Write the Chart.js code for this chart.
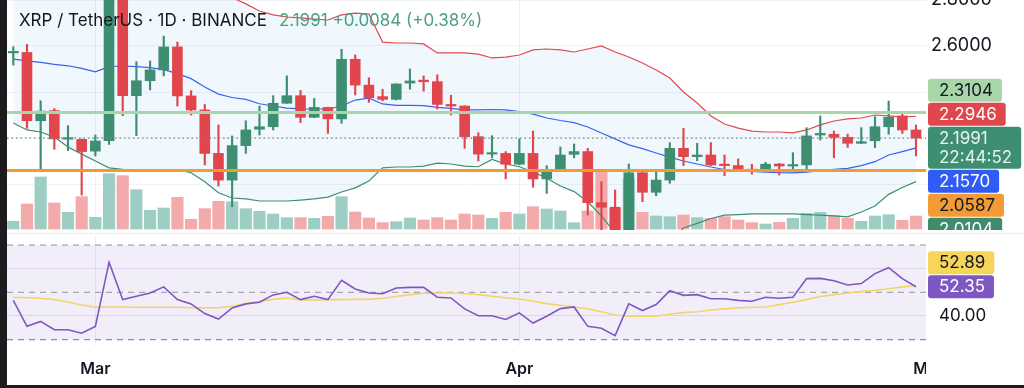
<!DOCTYPE html>
<html>
<head>
<meta charset="utf-8">
<title>XRP / TetherUS 1D</title>
<script src="https://cdn.jsdelivr.net/npm/chart.js@4.4.1/dist/chart.umd.min.js"></script>
<style>
  html, body { margin: 0; padding: 0; background: #1c1c1e; }
  #wrap { position: absolute; left: 7px; top: 0; width: 1017px; height: 385px; background: #fff; overflow: hidden; }
  #priceCanvas { position: absolute; left: 0; top: 0; }
  #rsiCanvas { position: absolute; left: 0; top: 236px; }
  #sep { position: absolute; left: 0; top: 233px; width: 1017px; height: 1px; background: #eceef2; }
</style>
</head>
<body>
<div id="wrap">
  <canvas id="priceCanvas" width="1017" height="230"></canvas>
  <div id="sep"></div>
  <canvas id="rsiCanvas" width="1017" height="149"></canvas>
</div>
<script>
// Daily candles, 23 Feb -> 30 Apr (index 0 = 23 Feb)
const symbolTitle = 'XRP / TetherUS · 1D · BINANCE';
const lastChange = '+0.0084';
const lastChangePct = '(+0.38%)';
const countdown = '22:44:52';

const monthIdx = [6, 37, 67];
const monthLabels = ['Mar', 'Apr', 'May'];

const open = [2.570, 2.572, 2.275, 2.319, 2.195, 2.194, 2.143, 2.188, 2.940, 2.384,
  2.449, 2.496, 2.596, 2.383, 2.322, 2.133, 2.017, 2.167, 2.238, 2.249,
  2.351, 2.384, 2.290, 2.333, 2.283, 2.542, 2.430, 2.380, 2.368, 2.439,
  2.451, 2.445, 2.346, 2.339, 2.206, 2.130, 2.133, 2.086, 2.133, 2.022,
  2.061, 2.129, 2.141, 1.919, 1.899, 1.740, 2.049, 1.964, 2.017, 2.155,
  2.119, 2.126, 2.086, 2.080, 2.064, 2.058, 2.087, 2.078, 2.083, 2.213,
  2.216, 2.203, 2.177, 2.188, 2.249, 2.296, 2.235];
const high = [2.597, 2.607, 2.362, 2.328, 2.254, 2.196, 2.213, 2.990, 2.960, 2.532,
  2.535, 2.643, 2.617, 2.406, 2.346, 2.257, 2.209, 2.275, 2.339, 2.384,
  2.470, 2.407, 2.372, 2.334, 2.586, 2.561, 2.462, 2.412, 2.436, 2.500,
  2.470, 2.475, 2.386, 2.340, 2.223, 2.210, 2.141, 2.197, 2.230, 2.080,
  2.161, 2.174, 2.155, 2.010, 1.974, 2.087, 2.061, 2.058, 2.180, 2.242,
  2.177, 2.180, 2.126, 2.109, 2.086, 2.094, 2.090, 2.136, 2.245, 2.296,
  2.230, 2.217, 2.245, 2.293, 2.361, 2.307, 2.257];
const low = [2.517, 2.242, 2.061, 2.151, 2.145, 1.952, 2.122, 2.172, 2.297, 2.210,
  2.409, 2.470, 2.339, 2.300, 2.083, 1.991, 1.901, 2.133, 2.213, 2.235,
  2.351, 2.267, 2.288, 2.220, 2.264, 2.387, 2.355, 2.361, 2.365, 2.412,
  2.404, 2.326, 2.300, 2.155, 2.100, 2.114, 2.022, 2.083, 1.986, 1.959,
  2.054, 2.114, 1.865, 1.760, 1.610, 1.640, 1.923, 1.949, 2.003, 2.080,
  2.101, 2.080, 2.036, 2.054, 2.043, 2.057, 2.039, 2.058, 2.061, 2.191,
  2.114, 2.159, 2.176, 2.158, 2.216, 2.220, 2.122];
const close = [2.574, 2.275, 2.317, 2.196, 2.199, 2.141, 2.187, 2.940, 2.384, 2.449,
  2.496, 2.596, 2.383, 2.322, 2.133, 2.017, 2.167, 2.235, 2.249, 2.351,
  2.384, 2.290, 2.333, 2.283, 2.542, 2.430, 2.375, 2.368, 2.435, 2.448,
  2.445, 2.346, 2.339, 2.206, 2.130, 2.136, 2.086, 2.133, 2.022, 2.061,
  2.126, 2.141, 1.919, 1.899, 1.740, 2.049, 1.964, 2.017, 2.155, 2.119,
  2.126, 2.083, 2.080, 2.061, 2.058, 2.086, 2.078, 2.083, 2.209, 2.220,
  2.203, 2.177, 2.184, 2.249, 2.290, 2.235, 2.1991];
const volume = [23, 75, 156, 78, 50, 97, 35, 166, 160, 118,
  56, 63, 95, 29, 61, 83, 82, 61, 53, 45,
  34, 34, 32, 38, 97, 51, 33, 19, 22, 33,
  27, 34, 27, 45, 42, 32, 50, 45, 67, 60,
  54, 19, 54, 174, 62, 150, 50, 39, 37, 42,
  34, 32, 37, 27, 19, 15, 20, 32, 47, 50,
  40, 32, 23, 39, 43, 26, 39];

// Bollinger bands (20, 2)
const bbUpper = [2.821, 2.835, 2.832, 2.836, 2.867, 2.876, 2.876, 2.946, 2.961, 2.960,
  2.951, 2.937, 2.925, 2.886, 2.866, 2.841, 2.811, 2.783, 2.752, 2.735,
  2.726, 2.722, 2.717, 2.713, 2.735, 2.743, 2.739, 2.617, 2.613, 2.613,
  2.609, 2.570, 2.570, 2.570, 2.565, 2.548, 2.552, 2.561, 2.583, 2.587,
  2.583, 2.574, 2.587, 2.600, 2.574, 2.552, 2.526, 2.496, 2.461, 2.400,
  2.352, 2.296, 2.261, 2.243, 2.230, 2.226, 2.226, 2.222, 2.235, 2.257,
  2.274, 2.283, 2.287, 2.300, 2.296, 2.291, 2.2946];
const bbBasis = [2.543, 2.535, 2.529, 2.520, 2.514, 2.503, 2.488, 2.510, 2.513, 2.510,
  2.506, 2.497, 2.480, 2.458, 2.422, 2.391, 2.376, 2.368, 2.349, 2.339,
  2.330, 2.327, 2.326, 2.326, 2.339, 2.365, 2.373, 2.348, 2.342, 2.342,
  2.341, 2.333, 2.329, 2.322, 2.322, 2.324, 2.322, 2.315, 2.304, 2.287,
  2.276, 2.267, 2.248, 2.222, 2.196, 2.170, 2.154, 2.135, 2.117, 2.100,
  2.087, 2.074, 2.063, 2.058, 2.055, 2.052, 2.049, 2.048, 2.052, 2.058,
  2.064, 2.068, 2.080, 2.097, 2.126, 2.141, 2.157];
const bbLower = [2.265, 2.235, 2.226, 2.204, 2.161, 2.130, 2.100, 2.070, 2.064, 2.061,
  2.061, 2.061, 2.061, 2.049, 2.010, 1.962, 1.939, 1.935, 1.926, 1.926,
  1.926, 1.930, 1.935, 1.943, 1.965, 1.983, 2.013, 2.070, 2.074, 2.074,
  2.078, 2.091, 2.087, 2.078, 2.075, 2.107, 2.087, 2.075, 2.052, 2.025,
  1.991, 1.967, 1.923, 1.861, 1.787, 1.740, 1.720, 1.710, 1.740, 1.809,
  1.829, 1.850, 1.865, 1.867, 1.870, 1.870, 1.870, 1.870, 1.867, 1.865,
  1.861, 1.857, 1.878, 1.904, 1.955, 1.985, 2.0104];

// horizontal drawings
const hLevels = [2.3104, 2.0587];

// RSI 14 and its moving average
const rsi = [46.6, 35.6, 37.7, 34.2, 34.2, 32.7, 35.6, 62.7, 46.9, 48.3,
  49.7, 52.3, 46.9, 45.1, 41.0, 38.7, 43.4, 45.1, 45.8, 48.9,
  50.0, 46.9, 48.3, 46.9, 55.1, 51.4, 49.7, 49.4, 51.8, 52.1,
  52.1, 47.9, 47.6, 43.0, 40.1, 40.1, 38.5, 41.3, 37.0, 39.9,
  43.1, 43.8, 35.6, 34.8, 31.7, 45.1, 42.3, 44.8, 50.7, 48.7,
  49.0, 47.3, 47.3, 46.6, 46.2, 47.9, 47.5, 47.9, 55.8, 55.9,
  54.9, 53.1, 53.7, 57.9, 60.4, 55.8, 52.35];
const rsiMa = [47.9, 47.7, 47.5, 46.9, 45.9, 44.6, 43.7, 43.8, 43.8, 43.7,
  43.7, 43.7, 43.7, 43.5, 43.4, 43.5, 44.1, 45.2, 46.2, 47.0,
  47.6, 46.8, 46.8, 46.9, 46.9, 47.0, 47.0, 47.5, 48.2, 49.0,
  49.6, 49.7, 49.7, 49.4, 49.0, 48.3, 47.7, 47.2, 46.2, 45.2,
  44.5, 43.8, 43.0, 41.8, 40.4, 39.9, 39.9, 39.9, 40.7, 41.4,
  41.8, 42.5, 43.0, 43.4, 43.7, 43.8, 44.8, 45.8, 46.9, 48.2,
  49.0, 49.7, 50.3, 50.8, 51.5, 52.3, 52.89];
const rsiLevels = [70, 50, 30];

const priceTicks = [2.0, 2.2, 2.4, 2.6, 2.8];
const rsiTicks = [40, 60];

// ---- layout / style ----
const FONT = 'Inter, "Noto Sans", sans-serif';
Chart.defaults.font.family = FONT;
const xMin = -0.46, xMax = 66.73;
const axisW = 98;
const last = close.length - 1;
const upColor = '#3e8e72', downColor = '#e0464b';

const isUp = close.map((c, i) => c >= open[i]);
const candleColors = isUp.map(u => u ? upColor : downColor);
const volColors = isUp.map(u => u ? '#9dcdc3' : '#f2aaaa');
const pts = arr => arr.map((v, i) => ({ x: i, y: v }));
const spanLine = v => [{ x: xMin, y: v }, { x: xMax, y: v }];

function lineDs(data, color, extra) {
  return Object.assign({
    type: 'line', data, borderColor: color, borderWidth: 1.2,
    pointRadius: 0, tension: 0, fill: false
  }, extra);
}

// no label padding around the panes: they sit edge to edge like the original
function noPad(s) {
  s.paddingTop = 0; s.paddingBottom = 0; s.paddingLeft = 0; s.paddingRight = 0;
}

function drawTags(chart, scaleId, tags) {
  const { ctx, chartArea } = chart;
  const scale = chart.scales[scaleId];
  const lineH = 19, padTop = 12, baseH = 24;
  ctx.save();
  ctx.font = '17px ' + FONT;
  const items = tags.slice().sort((a, b) => b.value - a.value).map(t => {
    const lines = [t.value.toFixed(t.digits)].concat(t.extra || []);
    const h = baseH + lineH * (lines.length - 1);
    const ideal = scale.getPixelForValue(t.value) - padTop;
    const w = Math.max(...lines.map(l => ctx.measureText(l).width)) + 20;
    return Object.assign({}, t, { lines, h, ideal, w, top: ideal });
  });
  // last value stays on its price, the others are pushed away from it
  const a = items.findIndex(t => t.anchor);
  for (let i = a - 1; i >= 0; i--) items[i].top = Math.min(items[i].ideal, items[i + 1].top - items[i].h);
  for (let i = a + 1; i < items.length; i++) items[i].top = Math.max(items[i].ideal, items[i - 1].top + items[i - 1].h);
  const x = chartArea.right + 2;
  items.forEach(t => {
    ctx.fillStyle = t.bg;
    ctx.beginPath();
    if (ctx.roundRect) ctx.roundRect(x, t.top + 0.5, t.w, t.h - 1, 3);
    else ctx.rect(x, t.top + 0.5, t.w, t.h - 1);
    ctx.fill();
    ctx.fillStyle = t.fg;
    ctx.textBaseline = 'middle';
    ctx.textAlign = 'left';
    t.lines.forEach((l, k) => ctx.fillText(l, x + 11, t.top + padTop + lineH * k + 0.5));
  });
  ctx.restore();
}

const priceOverlay = {
  id: 'priceOverlay',
  afterDraw(chart) {
    const ctx = chart.ctx;
    drawTags(chart, 'y', [
      { value: hLevels[0], digits: 4, bg: '#a9d6a8', fg: '#131722' },
      { value: bbUpper[last], digits: 4, bg: '#e0474c', fg: '#ffffff' },
      { value: close[last], digits: 4, bg: '#3e8e72', fg: '#e6f3ee', extra: [countdown], anchor: true },
      { value: bbBasis[last], digits: 4, bg: '#2f5cf2', fg: '#ffffff' },
      { value: hLevels[1], digits: 4, bg: '#f29b34', fg: '#131722' },
      { value: bbLower[last], digits: 4, bg: '#3f8c6d', fg: '#ffffff' }
    ]);
    // legend line
    ctx.save();
    ctx.font = '17px ' + FONT;
    ctx.textBaseline = 'middle';
    ctx.textAlign = 'left';
    ctx.fillStyle = '#131722';
    ctx.fillText(symbolTitle, 12, 21);
    const w = ctx.measureText(symbolTitle).width;
    ctx.fillStyle = '#4c9f85';
    ctx.fillText(close[last].toFixed(4) + ' ' + lastChange + ' ' + lastChangePct, 12 + w + 12, 21);
    ctx.restore();
  }
};

const rsiOverlay = {
  id: 'rsiOverlay',
  afterDraw(chart) {
    const { ctx, chartArea, width, height } = chart;
    // the next month label runs under the price scale
    ctx.save();
    ctx.fillStyle = '#ffffff';
    ctx.fillRect(chartArea.right, chartArea.bottom + 1, width - chartArea.right, height - chartArea.bottom);
    ctx.restore();
    drawTags(chart, 'y', [
      { value: rsiMa[last], digits: 2, bg: '#f6d55a', fg: '#131722' },
      { value: rsi[last], digits: 2, bg: '#7e57c2', fg: '#ffffff', anchor: true }
    ]);
  }
};

const xScale = (showLabels) => ({
  type: 'linear', min: xMin, max: xMax, offset: false,
  afterBuildTicks: s => { s.ticks = monthIdx.map(v => ({ value: v })); },
  ticks: {
    display: showLabels, autoSkip: false, maxRotation: 0, padding: 14,
    color: '#131722', font: { size: 16, weight: '600' },
    callback: v => monthLabels[monthIdx.indexOf(v)]
  },
  grid: {
    offset: false, drawTicks: false,
    color: c => (c.tick && c.tick.value <= xMax) ? '#eef0f4' : 'rgba(0,0,0,0)'
  },
  border: { display: false },
  afterFit: s => { s.height = showLabels ? 39 : 0; noPad(s); }
});

const idx = close.map((_, i) => i);

new Chart(document.getElementById('priceCanvas'), {
  type: 'bar',
  data: {
    datasets: [
      lineDs(pts(bbUpper), '#e04a4f', { fill: 2, backgroundColor: 'rgba(33,150,243,0.065)', order: 8 }),
      lineDs(pts(bbBasis), '#3a62ee', { order: 8 }),
      lineDs(pts(bbLower), '#3f8f6f', { order: 8 }),
      {
        type: 'bar', yAxisID: 'yVol', data: idx.map(i => ({ x: i, y: volume[i] })),
        backgroundColor: volColors, barThickness: 11.5, grouped: false, order: 10
      },
      {
        type: 'bar', data: idx.map(i => ({ x: i, y: [low[i], high[i]] })),
        backgroundColor: candleColors, barThickness: 1.5, grouped: false, order: 6
      },
      {
        type: 'bar', data: idx.map(i => ({ x: i, y: [open[i], close[i]] })),
        backgroundColor: candleColors, barThickness: 10, minBarLength: 1.5, grouped: false, order: 5
      },
      lineDs(spanLine(hLevels[0]), '#a9d6a8', { borderWidth: 3, order: 3 }),
      lineDs(spanLine(hLevels[1]), '#f29b34', { borderWidth: 3, order: 3 }),
      lineDs(spanLine(close[last]), '#6e8d84', { borderWidth: 1.2, borderDash: [1.5, 3], order: 2 })
    ]
  },
  options: {
    responsive: false, animation: false, devicePixelRatio: 1,
    layout: { padding: 0, autoPadding: false },
    plugins: { legend: { display: false }, tooltip: { enabled: false }, filler: { drawTime: 'beforeDatasetsDraw' } },
    scales: {
      x: xScale(false),
      y: {
        position: 'right', min: 1.8, max: 2.8, beginAtZero: false,
        afterBuildTicks: s => { s.ticks = priceTicks.map(v => ({ value: v })); },
        ticks: { color: '#131722', padding: 5, font: { size: 18 }, callback: v => v.toFixed(4) },
        grid: { color: '#f0f2f7', drawTicks: false },
        border: { display: false },
        afterFit: s => { s.width = axisW; noPad(s); }
      },
      yVol: { position: 'right', display: false, min: -3, max: 687, afterFit: s => { s.width = 0; noPad(s); } }
    }
  },
  plugins: [priceOverlay]
});

new Chart(document.getElementById('rsiCanvas'), {
  type: 'line',
  data: {
    datasets: [
      lineDs(spanLine(rsiLevels[0]), '#8d909a', { borderDash: [6, 5], borderWidth: 1.2, fill: 2, backgroundColor: 'rgba(126,87,194,0.1)', order: 5 }),
      lineDs(spanLine(rsiLevels[1]), '#a4a6ae', { borderDash: [6, 5], borderWidth: 1.2, order: 5 }),
      lineDs(spanLine(rsiLevels[2]), '#8d909a', { borderDash: [6, 5], borderWidth: 1.2, order: 5 }),
      lineDs(pts(rsiMa), '#f3d46c', { borderWidth: 1.6, order: 3 }),
      lineDs(pts(rsi), '#7e57c2', { borderWidth: 1.6, order: 2 })
    ]
  },
  options: {
    responsive: false, animation: false, devicePixelRatio: 1,
    layout: { padding: 0, autoPadding: false },
    plugins: { legend: { display: false }, tooltip: { enabled: false }, filler: { drawTime: 'beforeDatasetsDraw' } },
    scales: {
      x: xScale(true),
      y: {
        position: 'right', min: 27.3, max: 73.8,
        afterBuildTicks: s => { s.ticks = rsiTicks.map(v => ({ value: v })); },
        ticks: { color: '#131722', padding: 13, font: { size: 17 }, callback: v => v.toFixed(2) },
        grid: { color: '#e6e2ef', drawTicks: false },
        border: { display: false },
        afterFit: s => { s.width = axisW; noPad(s); }
      }
    }
  },
  plugins: [rsiOverlay]
});
</script>
</body>
</html>
